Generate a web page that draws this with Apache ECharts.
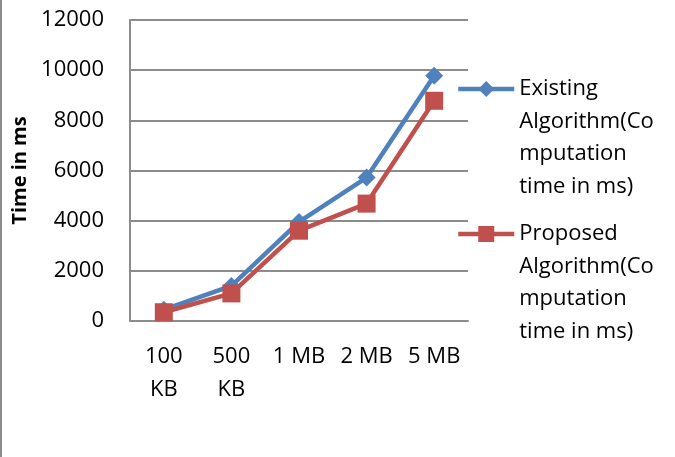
<!DOCTYPE html>
<html>
<head>
<meta charset="utf-8">
<script src="https://cdn.jsdelivr.net/npm/echarts@6/dist/echarts.min.js"></script>
<style>
html,body{margin:0;padding:0;background:#fff;}
#chart{width:675px;height:457px;}
</style>
</head>
<body>
<div id="chart"></div>
<script>
const categories = ['100\nKB', '500\nKB', '1 MB', '2 MB', '5 MB'];
const existingValues = [450, 1400, 3950, 5720, 9780];
const proposedValues = [350, 1100, 3600, 4680, 8780];
const seriesNames = [
  'Existing\nAlgorithm(Co\nmputation\ntime in ms)',
  'Proposed\nAlgorithm(Co\nmputation\ntime in ms)'
];
const yTicks = { min: 0, max: 12000, interval: 2000 };

const FONT = '"Open Sans", "Noto Sans", sans-serif';
const LH = 32.5;
const chart = echarts.init(document.getElementById('chart'), null, { renderer: 'canvas' });

function legendCfg(name, iconY, color) {
  return {
    orient: 'vertical',
    left: 456,
    top: iconY - 3.5 * LH,
    padding: 0,
    data: [name],
    itemWidth: 56,
    itemHeight: 20,
    itemGap: 0,
    selectedMode: false,
    formatter: function (n) { return '\n\n\n' + n; },
    lineStyle: { width: 4.5, color: color },
    itemStyle: { color: color },
    textStyle: {
      fontFamily: FONT,
      fontSize: 22,
      color: '#000',
      lineHeight: LH
    }
  };
}

chart.setOption({
  animation: false,
  backgroundColor: '#fff',
  grid: { left: 130, right: 207, top: 20, bottom: 136, containLabel: false },
  legend: [
    legendCfg(seriesNames[0], 89, '#4F81BD'),
    legendCfg(seriesNames[1], 234, '#C0504D')
  ],
  xAxis: {
    type: 'category',
    data: categories,
    boundaryGap: true,
    axisLine: { show: true, lineStyle: { color: '#8c8c8c', width: 2 } },
    axisTick: { show: false },
    axisLabel: {
      fontFamily: FONT, fontSize: 22, color: '#000', lineHeight: 33, margin: 19, interval: 0
    },
    splitLine: { show: false }
  },
  yAxis: {
    type: 'value',
    min: yTicks.min, max: yTicks.max, interval: yTicks.interval,
    name: 'Time in ms',
    nameLocation: 'middle',
    nameRotate: 90,
    nameGap: 99,
    nameTextStyle: { fontFamily: FONT, fontSize: 20, fontWeight: 'bold', color: '#000' },
    axisLine: { show: true, lineStyle: { color: '#8c8c8c', width: 2 } },
    axisTick: { show: false },
    axisLabel: {
      fontFamily: FONT, fontSize: 22, color: '#000', margin: 26,
      formatter: function (v) { return String(v); }
    },
    splitLine: { show: true, lineStyle: { color: '#8c8c8c', width: 2 } }
  },
  series: [
    {
      name: seriesNames[0],
      type: 'line',
      data: existingValues,
      symbol: 'diamond',
      symbolSize: 18,
      color: '#4F81BD',
      lineStyle: { width: 4.5, color: '#4F81BD' },
      itemStyle: { color: '#4F81BD' }
    },
    {
      name: seriesNames[1],
      type: 'line',
      data: proposedValues,
      symbol: 'rect',
      symbolSize: 18,
      color: '#C0504D',
      lineStyle: { width: 4.5, color: '#C0504D' },
      itemStyle: { color: '#C0504D' }
    }
  ],
  graphic: [
    { type: 'rect', shape: { x: 0, y: 0, width: 2, height: 457 }, style: { fill: '#8c8c8c' } }
  ]
});
</script>
</body>
</html>
